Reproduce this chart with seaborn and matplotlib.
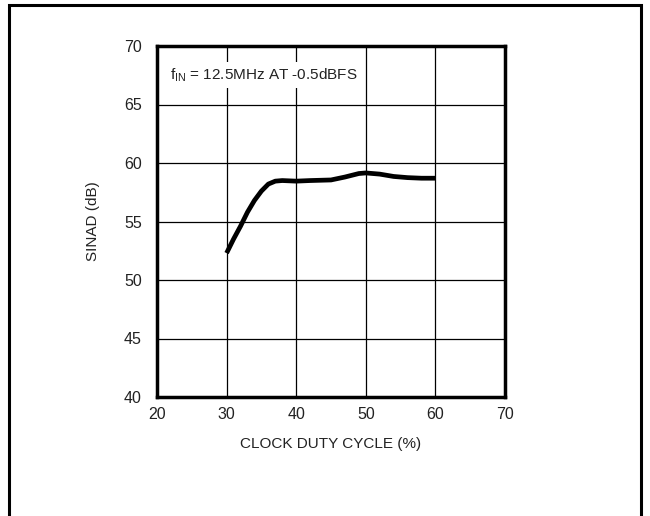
import matplotlib
matplotlib.use("Agg")
import matplotlib.pyplot as plt
import seaborn as sns
import pandas as pd
from matplotlib.patches import Rectangle

duty_cycle = [30, 31, 32, 33, 34, 35, 36, 37, 38, 40, 42, 45, 47, 49, 50, 52, 54, 56, 58, 60]
sinad_db = [52.3, 53.5, 54.6, 55.8, 56.8, 57.6, 58.2, 58.45, 58.5, 58.45, 58.5, 58.55, 58.8, 59.1, 59.15, 59.05, 58.85, 58.75, 58.7, 58.7]
x_ticks = [20, 30, 40, 50, 60, 70]
y_ticks = [40, 45, 50, 55, 60, 65, 70]

sns.set_theme(style="white")
font_list = ["Liberation Sans Narrow", "Liberation Sans", "DejaVu Sans"]
plt.rcParams["font.family"] = font_list
plt.rcParams["mathtext.fontset"] = "custom"
plt.rcParams["mathtext.rm"] = "Liberation Sans"

fig = plt.figure(figsize=(6.5, 5.16), dpi=100)
ax = fig.add_axes([157/650, 1-397/516, 348/650, 351/516])

df = pd.DataFrame({"duty": duty_cycle, "sinad": sinad_db})
sns.lineplot(data=df, x="duty", y="sinad", ax=ax, color="black", linewidth=3.4,
             solid_capstyle="butt", solid_joinstyle="round")

ax.set_xlim(20, 70)
ax.set_ylim(40, 70)
ax.set_xticks(x_ticks)
ax.set_yticks(y_ticks)
ax.grid(True, color="black", linewidth=0.9)
ax.set_axisbelow(True)
for s in ax.spines.values():
    s.set_color("black")
    s.set_linewidth(2.5)
ax.tick_params(length=0, labelsize=11.5, colors="#222222")
ax.tick_params(axis="y", pad=11)
ax.tick_params(axis="x", pad=7)
ax.set_xlabel("CLOCK DUTY CYCLE (%)", fontsize=11, color="#222222", labelpad=11)
ax.set_ylabel("SINAD (dB)", fontsize=11, color="#222222", labelpad=17)

ax.text(21.9, 67.5, r"f$_{\mathrm{IN}}$ = 12.5MHz AT -0.5dBFS", fontsize=11, color="#222222",
        va="center", ha="left",
        bbox=dict(facecolor="white", edgecolor="none", pad=3))

fig.patches.append(Rectangle((9/650, -0.02), 632/650, 1-5/516+0.02, transform=fig.transFigure,
                             fill=False, edgecolor="black", linewidth=2.2))

fig.savefig("out.png", dpi=100)
